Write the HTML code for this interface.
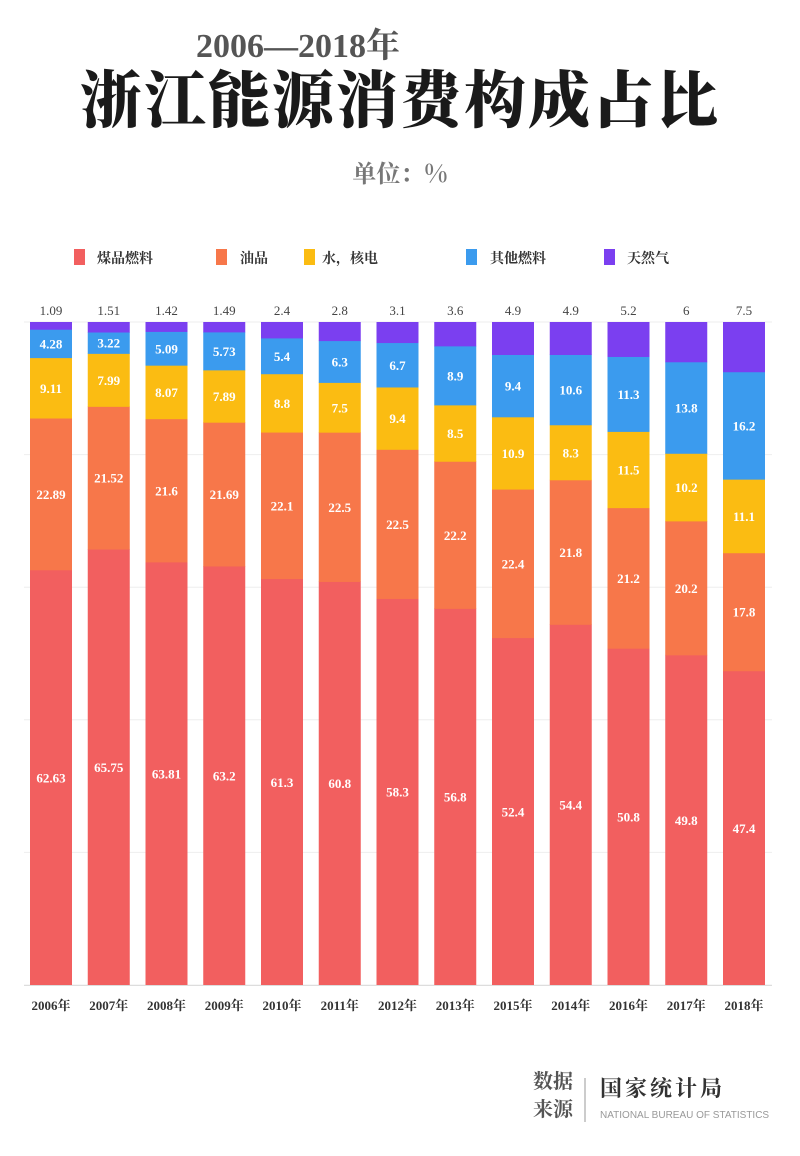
<!DOCTYPE html>
<html><head><meta charset="utf-8"><style>
body{margin:0;background:#fff;width:800px;height:1156px;overflow:hidden}
svg{display:block}
</style></head><body>
<svg id="s" width="800" height="1156" xmlns="http://www.w3.org/2000/svg" font-family="Liberation Serif, Noto Serif CJK SC, serif">
<text x="298" y="57" text-anchor="middle" font-size="34" font-weight="bold" fill="#555">2006—2018年</text>
<text x="400" y="122" text-anchor="middle" font-size="62" font-weight="900" fill="#1a1a1a" font-family="Noto Serif CJK SC, serif" letter-spacing="2">浙江能源消费构成占比</text>
<text x="400" y="182" text-anchor="middle" font-size="24" font-weight="bold" fill="#777" font-family="Noto Serif CJK SC, serif">单位：%</text>
<g font-size="14" font-weight="bold" fill="#333" font-family="Noto Serif CJK SC, serif">
<rect x="74" y="249" width="11" height="16" fill="#f25f5f"/><text x="97" y="263">煤品燃料</text>
<rect x="216" y="249" width="11" height="16" fill="#f7774a"/><text x="240" y="263">油品</text>
<rect x="304" y="249" width="11" height="16" fill="#fbbc12"/><text x="322" y="263">水，核电</text>
<rect x="466" y="249" width="11" height="16" fill="#3b9bee"/><text x="490" y="263">其他燃料</text>
<rect x="604" y="249" width="11" height="16" fill="#7b3ff0"/><text x="627" y="263">天然气</text>
</g>
<g id="grid" stroke="#eee" stroke-width="1"></g>
<g id="bars"></g>
<line x1="24" y1="985.5" x2="772" y2="985.5" stroke="#ddd"/>
<g font-family="Noto Serif CJK SC, serif">
<text x="533" y="1088" font-size="20" font-weight="bold" fill="#555">数据</text>
<text x="533" y="1116" font-size="20" font-weight="bold" fill="#555">来源</text>
<line x1="585" y1="1078" x2="585" y2="1122" stroke="#999"/>
<text x="600" y="1096" font-size="22" font-weight="bold" fill="#333" letter-spacing="3">国家统计局</text>
<text x="600" y="1118" font-size="10" fill="#999" font-family="Liberation Sans, sans-serif">NATIONAL BUREAU OF STATISTICS</text>
</g>
</svg>
<script>
(function(){
var yrs=["2006年","2007年","2008年","2009年","2010年","2011年","2012年","2013年","2015年","2014年","2016年","2017年","2018年"];
var d=[["62.63","22.89","9.11","4.28","1.09"],["65.75","21.52","7.99","3.22","1.51"],["63.81","21.6","8.07","5.09","1.42"],["63.2","21.69","7.89","5.73","1.49"],["61.3","22.1","8.8","5.4","2.4"],["60.8","22.5","7.5","6.3","2.8"],["58.3","22.5","9.4","6.7","3.1"],["56.8","22.2","8.5","8.9","3.6"],["52.4","22.4","10.9","9.4","4.9"],["54.4","21.8","8.3","10.6","4.9"],["50.8","21.2","11.5","11.3","5.2"],["49.8","20.2","10.2","13.8","6"],["47.4","17.8","11.1","16.2","7.5"]];
var col=["#f25f5f","#f7774a","#fbbc12","#3b9bee","#7b3ff0"];
var ns="http://www.w3.org/2000/svg",b=document.getElementById("bars"),g=document.getElementById("grid");
function el(t,a,p,txt){var e=document.createElementNS(ns,t);for(var k in a)e.setAttribute(k,a[k]);if(txt)e.textContent=txt;p.appendChild(e);return e;}
for(var i=0;i<6;i++){var yy=322+i*132.6;el("line",{x1:24,x2:772,y1:yy,y2:yy},g);}
var T=322,B=985,H=B-T;
d.forEach(function(r,i){
 var x=30+i*57.75,w=42,s=0;r.forEach(function(v){s+=parseFloat(v)});
 var y=B;
 r.forEach(function(v,j){
  var h=parseFloat(v)/s*H;y-=h;
  el("rect",{x:x,y:y,width:w,height:h+0.5,fill:col[j]},b);
  if(j<4) el("text",{x:x+w/2,y:y+h/2+5,"text-anchor":"middle","font-size":13,"font-weight":"bold",fill:"#fff"},b,v);
  else el("text",{x:x+w/2,y:315,"text-anchor":"middle","font-size":13,fill:"#444"},b,v);
 });
 el("text",{x:x+w/2,y:1010,"text-anchor":"middle","font-size":13,"font-weight":"bold",fill:"#333"},b,yrs[i]);
});
})();
</script>
</body></html>
